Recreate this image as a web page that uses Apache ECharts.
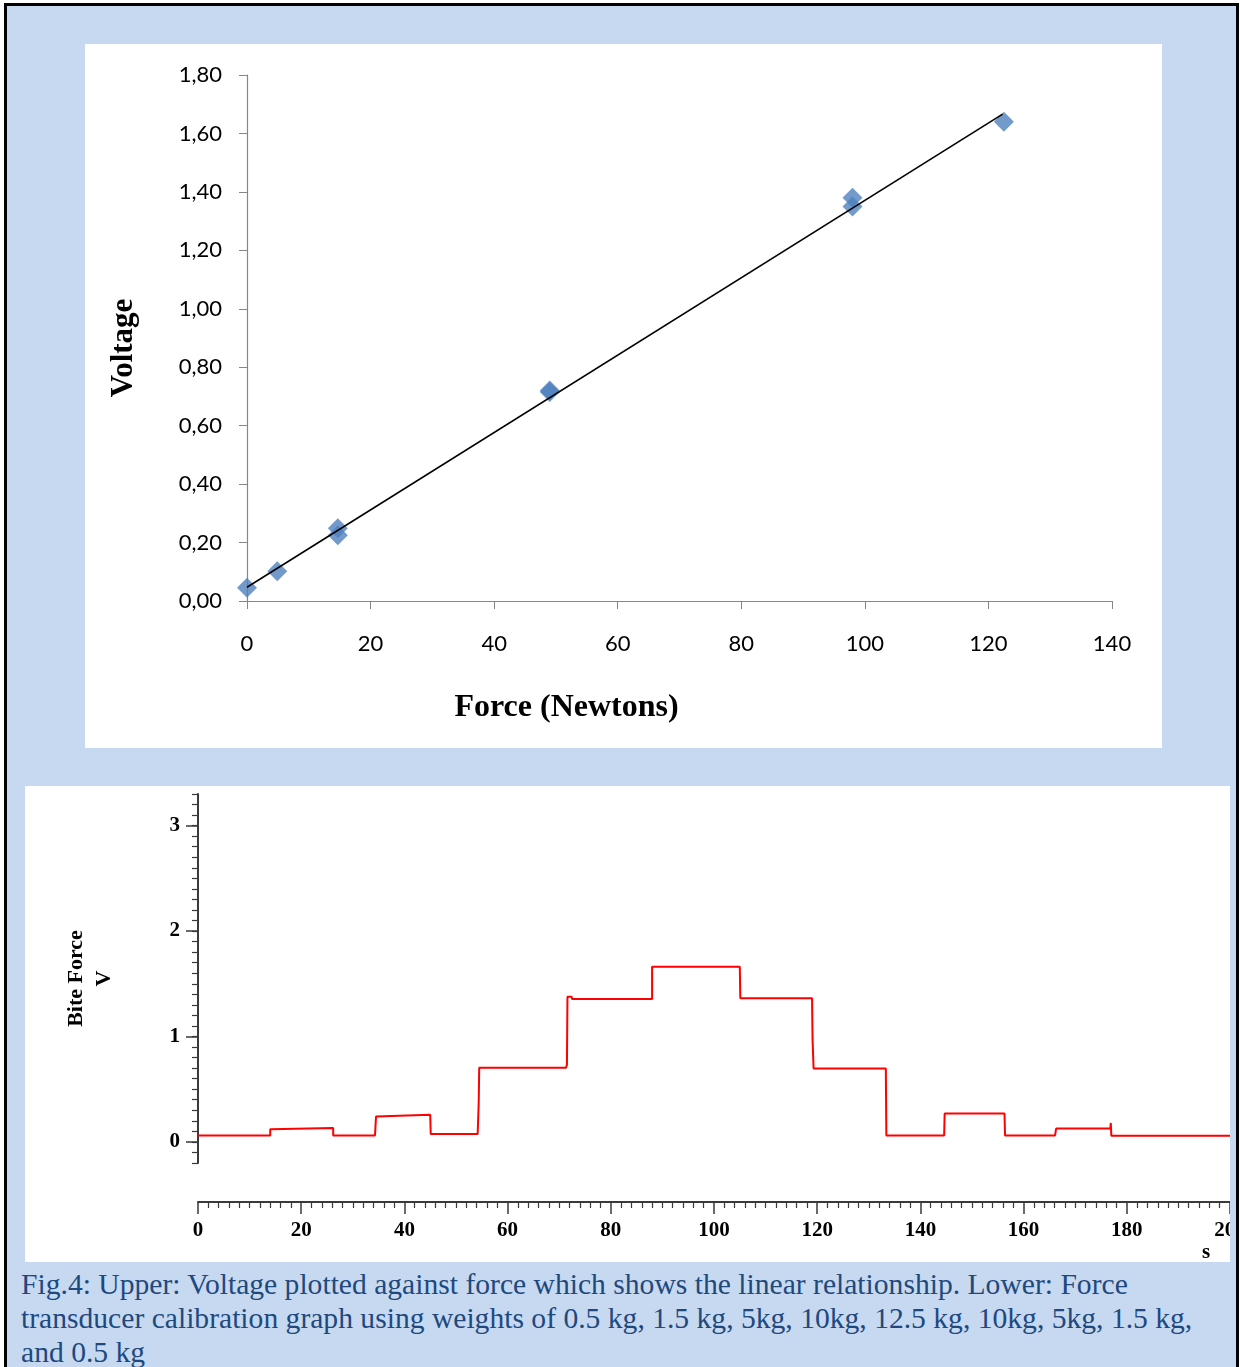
<!DOCTYPE html>
<html>
<head>
<meta charset="utf-8">
<script src="https://cdn.jsdelivr.net/npm/echarts@6/dist/echarts.min.js"></script>
<style>
  body { margin: 0; width: 1240px; height: 1367px; overflow: hidden; position: relative; background: #fff; }
  #frame { position: absolute; left: 4px; top: 3px; width: 1229px; height: 1400px; background: #c6d9f1; border: 3px solid #000; border-bottom: none; }
  #calib { position: absolute; left: 85px; top: 44px; width: 1077px; height: 704px; background: #fff; }
  #trace { position: absolute; left: 25px; top: 786px; width: 1205px; height: 476px; background: #fff; }
  #caption { position: absolute; left: 21px; top: 1267px; width: 1215px; font: 29.6px "Liberation Serif", "Times New Roman", serif; line-height: 34px; color: #1f497d; white-space: nowrap; }
</style>
</head>
<body>
<div id="frame"></div>
<div id="calib"></div>
<div id="trace"></div>
<div id="caption">Fig.4: Upper: Voltage plotted against force which shows the linear relationship. Lower: Force<br>transducer calibration graph using weights of 0.5 kg, 1.5 kg, 5kg, 10kg, 12.5 kg, 10kg, 5kg, 1.5 kg,<br>and 0.5 kg</div>
<script>
// upper: calibration points (force in N, voltage in V)
const forceN = [0, 4.9, 14.7, 14.7, 49, 49, 98, 98, 122.5];
const voltage = [0.045, 0.102, 0.249, 0.225, 0.72, 0.715, 1.38, 1.35, 1.64];
// linear trendline ends
const trendForce = [0, 122.3];
const trendVolt = [0.047, 1.666];

// lower: recorded trace, time (s) and bite force (V)
const traceTime = [0, 14.0, 14.0, 14.3, 26.2, 26.2, 34.3, 34.5, 34.8, 45.0, 45.1, 54.2, 54.4, 54.5,
  71.3, 71.5, 71.6, 72.4, 72.5, 88.0, 88.0, 105.0, 105.1, 119.0, 119.1, 119.3, 133.3, 133.4,
  144.6, 144.7, 156.3, 156.4, 166.1, 166.3, 176.8, 176.9, 177.0, 200];
const traceVolt = [0.062, 0.062, 0.12, 0.133, 0.133, 0.062, 0.062, 0.24, 0.258, 0.258, 0.075, 0.075, 0.37, 0.703,
  0.703, 0.73, 1.377, 1.377, 1.355, 1.355, 1.662, 1.662, 1.362, 1.362, 0.97, 0.697, 0.697, 0.062,
  0.062, 0.27, 0.27, 0.062, 0.062, 0.127, 0.127, 0.18, 0.058, 0.058];

const yMajor = [0, 1, 2, 3];

const calib = echarts.init(document.getElementById('calib'));
calib.setOption({
  animation: false,
  grid: { left: 162, top: 31, width: 865, height: 526, outerBoundsMode: 'none' },
  xAxis: {
    type: 'value', min: 0, max: 140, interval: 20,
    name: 'Force (Newtons)', nameLocation: 'middle', nameGap: 91,
    nameTextStyle: { fontFamily: 'Liberation Serif', fontWeight: 'bold', fontSize: 32, color: '#000', padding: [0, 226, 0, 0] },
    axisLine: { onZero: false, lineStyle: { color: '#868686', width: 1.2 } },
    axisTick: { length: 8, lineStyle: { color: '#868686' } },
    axisLabel: { fontFamily: 'Lato', fontSize: 22, color: '#000', margin: 32 },
    splitLine: { show: false }
  },
  yAxis: {
    type: 'value', min: 0, max: 1.8, interval: 0.2,
    name: 'Voltage', nameLocation: 'middle', nameGap: 108, nameRotate: 90,
    nameTextStyle: { fontFamily: 'Liberation Serif', fontWeight: 'bold', fontSize: 31, color: '#000', padding: [0, 20, 0, 0] },
    axisLine: { show: true, onZero: false, lineStyle: { color: '#868686', width: 1.2 } },
    axisTick: { show: true, length: 8, lineStyle: { color: '#868686' } },
    axisLabel: {
      fontFamily: 'Lato', fontSize: 22, color: '#000', margin: 25,
      formatter: v => v.toFixed(2).replace('.', ',')
    },
    splitLine: { show: false }
  },
  series: [
    {
      type: 'scatter', symbol: 'diamond', symbolSize: 20,
      itemStyle: { color: '#4f81bd' },
      data: forceN.map((f, i) => [f, voltage[i]])
    },
    {
      type: 'line', showSymbol: false, z: 5,
      lineStyle: { color: '#000', width: 1.6 },
      data: trendForce.map((f, i) => [f, trendVolt[i]])
    }
  ]
});

const trace = echarts.init(document.getElementById('trace'));
const serif = 'Liberation Serif';
trace.setOption({
  animation: false,
  grid: { left: 173, top: 8, width: 1032, height: 369, outerBoundsMode: 'none' },
  xAxis: {
    type: 'value', min: 0, max: 200, interval: 20, offset: 39,
    axisLine: { onZero: false, lineStyle: { color: '#3a3a3a', width: 2 } },
    axisTick: { length: 12, lineStyle: { color: '#3a3a3a', width: 1.5 } },
    minorTick: { show: true, splitNumber: 10, length: 6, lineStyle: { color: '#3a3a3a', width: 1.2 } },
    axisLabel: { fontFamily: serif, fontWeight: 'bold', fontSize: 21, color: '#000', margin: 18, hideOverlap: false },
    splitLine: { show: false }
  },
  yAxis: [
    {
      type: 'value', min: -0.2, max: 3.3,
      name: 'Bite Force\nV', nameLocation: 'middle', nameGap: 80, nameRotate: 90,
      nameTextStyle: { fontFamily: serif, fontWeight: 'bold', fontSize: 22, color: '#000', lineHeight: 28 },
      axisLine: { show: true, onZero: false, lineStyle: { color: '#3a3a3a', width: 2 } },
      axisTick: { show: true, length: 12, customValues: yMajor, lineStyle: { color: '#3a3a3a', width: 1.5 } },
      axisLabel: { customValues: yMajor, fontFamily: serif, fontWeight: 'bold', fontSize: 21, color: '#000', margin: 18 },
      splitLine: { show: false }
    },
    {
      type: 'value', min: -0.2, max: 3.3, interval: 0.1, position: 'left', offset: 0,
      axisLine: { show: false, onZero: false },
      axisTick: { show: true, length: 6, lineStyle: { color: '#3a3a3a', width: 1.2 } },
      axisLabel: { show: false },
      splitLine: { show: false }
    }
  ],
  graphic: [
    { type: 'text', x: 1181, y: 467, style: { text: 's', font: 'bold 21px "Liberation Serif"', fill: '#000', textAlign: 'center', textVerticalAlign: 'middle' } }
  ],
  series: [
    {
      type: 'line', showSymbol: false, yAxisIndex: 0,
      lineStyle: { color: '#ff0000', width: 2 },
      data: traceTime.map((t, i) => [t, traceVolt[i]])
    }
  ]
});
</script>
</body>
</html>
